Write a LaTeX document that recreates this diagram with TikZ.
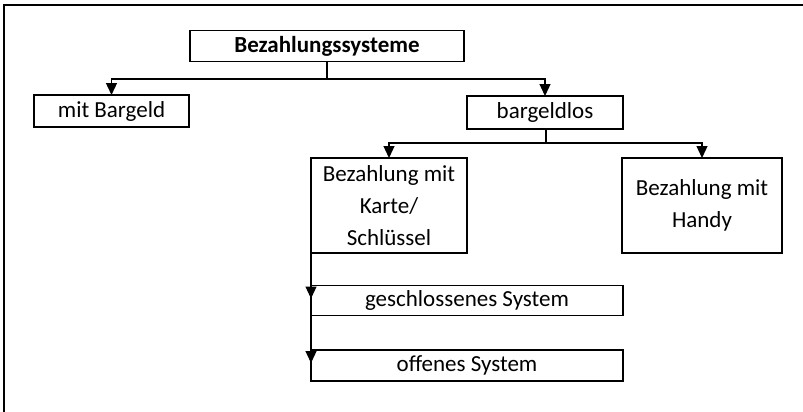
\documentclass[tikz,border=0pt]{standalone}
\usepackage{fontspec}
\setmainfont{Carlito}
\usetikzlibrary{arrows.meta}
\tikzset{
  box/.style={draw, line width=1.6pt, rectangle, inner sep=0pt, outer sep=0pt,
    align=center, font=\fontsize{23pt}{32pt}\selectfont},
  arr/.style={line width=1.3pt, -{Triangle[length=12pt,width=11pt]}},
  link/.style={line width=1.3pt},
}
\begin{document}
\begin{tikzpicture}[x=1pt,y=-1pt]
  \useasboundingbox (0,0) rectangle (803,412);
  % frame
  \draw[line width=2.5pt] (4,412) -- (4,5) -- (803,5);

  % nodes
  \node[box, minimum width=274pt, minimum height=31pt, font=\fontsize{23pt}{32pt}\selectfont\bfseries]
    (root) at (327,46) {Bezahlungssysteme};
  \node[box, minimum width=155pt, minimum height=32pt] (bar) at (111.5,111) {mit Bargeld};
  \node[box, minimum width=156pt, minimum height=33pt] (los) at (545,112.5) {bargeldlos};
  \node[box, minimum width=156pt, minimum height=95pt] (karte) at (389,205.5)
    {Bezahlung mit\\Karte/\\Schlüssel};
  \node[box, minimum width=160pt, minimum height=95pt] (handy) at (702,205.5)
    {Bezahlung mit\\Handy};
  \node[box, minimum width=312pt, minimum height=30pt] (geschl) at (467,300.5)
    {geschlossenes System};
  \node[box, minimum width=312pt, minimum height=31pt] (offen) at (467,365.5)
    {offenes System};

  % connectors
  \coordinate (j1) at (327,79);
  \coordinate (j2) at (546,143);
  \draw[link] (root.south) -- (j1);
  \draw[arr] (j1) -| (bar.north);
  \draw[arr] (j1) -| (los.north);
  \draw[link] (los.south -| j2) -- (j2);
  \draw[arr] (j2) -| (karte.north);
  \draw[arr] (j2) -| (handy.north);
  \draw[arr] (karte.west) -- ([yshift=-13pt]geschl.north west);
  \draw[arr] (geschl.north west) -- ([yshift=-13pt]offen.north west);
\end{tikzpicture}
\end{document}
